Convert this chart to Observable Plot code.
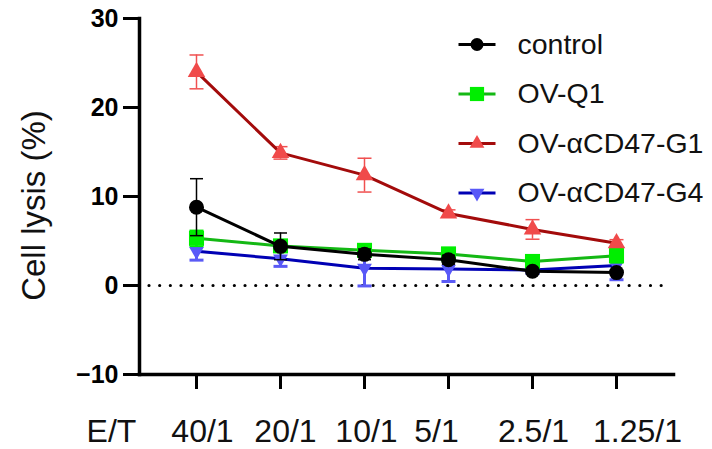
<!DOCTYPE html>
<html>
<head>
<meta charset="utf-8">
<script src="https://cdn.jsdelivr.net/npm/d3@7"></script>
<script src="https://cdn.jsdelivr.net/npm/@observablehq/plot@0.6"></script>
<style>
  html, body { margin: 0; padding: 0; background: #fff; }
  #chart { width: 712px; height: 449px; }
</style>
</head>
<body>
<div id="chart"></div>
<script>
// ---- data ----
const ratios = ["40/1", "20/1", "10/1", "5/1", "2.5/1", "1.25/1"];
const seriesNames = ["control", "OV-Q1", "OV-\u03B1CD47-G1", "OV-\u03B1CD47-G4"];
const controlMean = [8.8, 4.4, 3.5, 2.9, 1.6, 1.45];
const controlSem  = [3.2, 1.5, 0.6, 0.5, 0.3, 0.3];
const q1Mean = [5.3, 4.45, 3.95, 3.55, 2.7, 3.35];
const q1Sem  = [0.9, 0.5, 0.5, 0.4, 0.4, 0.8];
const g1Mean = [24.0, 14.9, 12.4, 8.1, 6.3, 4.75];
const g1Sem  = [1.9, 0.7, 1.9, 0.4, 1.1, 0.4];
const g4Mean = [3.85, 3.0, 1.95, 1.85, 1.75, 2.25];
const g4Sem  = [1.0, 0.85, 2.0, 1.4, 0.4, 1.6];
const yTicks = [-10, 0, 10, 20, 30];

// ---- styles ----
const means = [controlMean, q1Mean, g1Mean, g4Mean];
const sems = [controlSem, q1Sem, g1Sem, g4Sem];
const lineColor = ["#000000", "#14b814", "#a30b0b", "#0000b4"];
const markColor = ["#000000", "#00ee00", "#f04a4a", "#5858f8"];
const errColor = ["#000000", "#00ee00", "#f05050", "#5a5af5"];
const errWidth = [1.5, 1.5, 1.5, 3];
const capR = [6.5, 7, 7, 7];

const triDown = {
  draw(ctx, size) {
    const y = Math.sqrt(size / (3 * Math.sqrt(3)));
    ctx.moveTo(0, 2 * y);
    ctx.lineTo(Math.sqrt(3) * y, -y);
    ctx.lineTo(-Math.sqrt(3) * y, -y);
    ctx.closePath();
  }
};
const hbar = {
  draw(ctx, size) {
    const w = Math.sqrt(size / Math.PI);
    ctx.moveTo(-w, 0);
    ctx.lineTo(w, 0);
  }
};
const symbols = ["circle", "square", "triangle", triDown];
const markR = [7.5, 8.5, 6.5, 5.5];
const legendR = [6.5, 8, 5.5, 5.5];
const labelDx = [6, 5, 2, -12, 1, 21];

const rows = [];
seriesNames.forEach((s, si) => {
  ratios.forEach((r, i) => rows.push({series: s, si, ratio: r, mean: means[si][i], sem: sems[si][i]}));
});

const drawOrder = [3, 1, 2, 0];
const seriesMarks = drawOrder.flatMap(si => {
  const d = rows.filter(r => r.si === si);
  return [
    Plot.ruleX(d, {x: "ratio", y1: r => r.mean - r.sem, y2: r => r.mean + r.sem, stroke: errColor[si], strokeWidth: errWidth[si]}),
    Plot.dot(d, {x: "ratio", y: r => r.mean + r.sem, symbol: hbar, r: capR[si], stroke: errColor[si], strokeWidth: errWidth[si], fill: "none"}),
    Plot.dot(d, {x: "ratio", y: r => r.mean - r.sem, symbol: hbar, r: capR[si], stroke: errColor[si], strokeWidth: errWidth[si], fill: "none"}),
    Plot.line(d, {x: "ratio", y: "mean", stroke: lineColor[si], strokeWidth: 3}),
    Plot.dot(d, {x: "ratio", y: "mean", symbol: symbols[si], r: markR[si], fill: markColor[si], stroke: "none"})
  ];
});

const legendMarks = seriesNames.flatMap((s, si) => [
  Plot.dot([s], {frameAnchor: "top-left", dx: 337.5, dy: 26 + si * 49.5, symbol: hbar, r: 18.5, stroke: lineColor[si], strokeWidth: 3, fill: "none"}),
  Plot.dot([s], {frameAnchor: "top-left", dx: 337.5, dy: 26 + si * 49.5, symbol: symbols[si], r: legendR[si], fill: markColor[si], stroke: "none"}),
  Plot.text([s], {frameAnchor: "top-left", dx: 378, dy: 26 + si * 49.5, text: d => d, textAnchor: "start", lineAnchor: "middle", fontSize: 28.5, fill: "#111"})
]);

const xLabelMarks = ratios.map((r, i) =>
  Plot.text([r], {x: d => d, text: d => d, frameAnchor: "bottom", dy: 57, dx: labelDx[i], textAnchor: "middle", lineAnchor: "middle", fontSize: 32, fill: "#111"})
);

const chart = Plot.plot({
  width: 712,
  height: 449,
  marginLeft: 139,
  marginRight: 39,
  marginTop: 18,
  marginBottom: 75,
  style: {fontFamily: "'Liberation Sans', Arial, Helvetica, sans-serif", background: "#fff", color: "#000"},
  x: {type: "point", domain: ratios, padding: 0.66},
  y: {domain: [-10, 30]},
  marks: [
    Plot.ruleY([0], {stroke: "#000", strokeWidth: 3.2, strokeDasharray: "0,10.67", strokeLinecap: "round", insetLeft: 10, insetRight: 6}),
    Plot.axisY({ticks: yTicks, tickSize: 16, tickPadding: 5, fontSize: 25, fontWeight: "bold", strokeWidth: 3, label: null}),
    Plot.axisX({tickSize: 15, strokeWidth: 3, tickFormat: () => "", label: null}),
    Plot.frame({anchor: "left", strokeWidth: 3.5}),
    Plot.frame({anchor: "bottom", strokeWidth: 3.5}),
    ...seriesMarks,
    ...legendMarks,
    ...xLabelMarks,
    Plot.text(["E/T"], {text: d => d, frameAnchor: "bottom-left", dx: -28, dy: 57, textAnchor: "middle", lineAnchor: "middle", fontSize: 32, fill: "#111"}),
    Plot.text(["Cell lysis (%)"], {text: d => d, frameAnchor: "left", dx: -105, dy: 9, rotate: -90, textAnchor: "middle", lineAnchor: "middle", fontSize: 33, fill: "#111"})
  ]
});
document.getElementById("chart").appendChild(chart);
</script>
</body>
</html>
